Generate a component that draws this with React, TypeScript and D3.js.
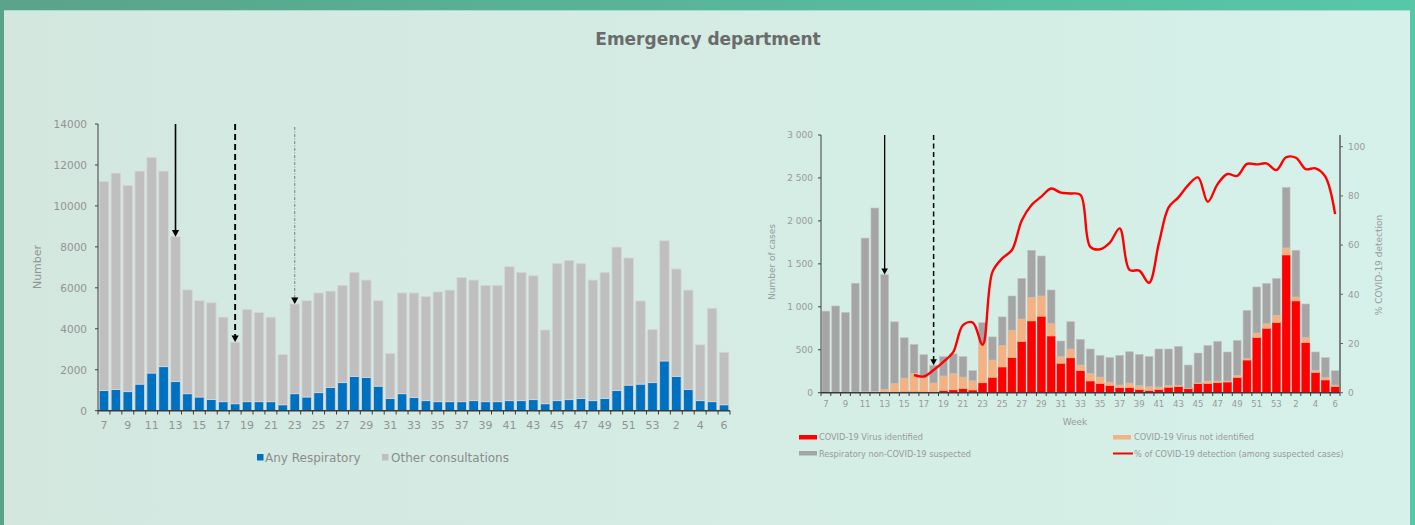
import React, { useRef, useEffect } from "react";
import * as d3 from "d3";

// week numbers (7..53 of year one, then 1..6 of year two)
const weeks = [
  7, 8, 9, 10, 11, 12, 13, 14, 15, 16, 17, 18, 19, 20, 21, 22, 23, 24, 25, 26,
  27, 28, 29, 30, 31, 32, 33, 34, 35, 36, 37, 38, 39, 40, 41, 42, 43, 44, 45,
  46, 47, 48, 49, 50, 51, 52, 53, 1, 2, 3, 4, 5, 6,
];

// left chart: consultations
const anyRespiratory = [
  980, 1030, 930, 1300, 1840, 2150, 1420, 830, 670, 550, 440, 340, 440, 440,
  440, 290, 830, 670, 880, 1140, 1370, 1680, 1630, 1200, 600, 830, 650, 490,
  440, 440, 440, 490, 440, 440, 490, 490, 540, 340, 490, 540, 600, 490, 600,
  980, 1250, 1300, 1370, 2430, 1680, 1030, 490, 440, 290,
];
const otherConsultations = [
  10220, 10570, 10070, 10400, 10530, 9550, 7080, 5070, 4700, 4720, 4130, 3010,
  4510, 4350, 4130, 2460, 4380, 4700, 4870, 4700, 4750, 5080, 4750, 4170, 2200,
  4920, 5100, 5090, 5360, 5450, 6060, 5890, 5680, 5680, 6540, 6270, 6050, 3600,
  6690, 6800, 6580, 5890, 6160, 7010, 6210, 4060, 2600, 5870, 5240, 4860, 2730,
  4560, 2560,
];
const leftTicks = [0, 2000, 4000, 6000, 8000, 10000, 12000, 14000];

// right chart: suspected cases
const covidIdentified = [
  3, 2, 2, 3, 4, 5, 5, 8, 12, 12, 10, 8, 23, 33, 47, 31, 115, 177, 299, 408,
  594, 835, 889, 660, 342, 406, 256, 136, 105, 82, 58, 58, 35, 23, 35, 62, 70,
  47, 105, 105, 116, 124, 175, 380, 641, 749, 815, 1603, 1068, 582, 233, 148,
  70,
];
const covidNotIdentified = [
  2, 3, 3, 5, 6, 10, 34, 97, 158, 213, 160, 105, 172, 192, 135, 107, 455, 203,
  252, 319, 264, 275, 237, 144, 77, 103, 66, 89, 77, 42, 31, 55, 47, 47, 31, 20,
  12, 3, 8, 31, 20, 12, 27, 16, 54, 55, 86, 82, 46, 59, 27, 27, 19,
];
const respNonCovid = [
  945, 1005, 930, 1267, 1790, 2135, 1336, 720, 470, 338, 273, 207, 225, 227,
  239, 120, 245, 270, 332, 399, 473, 548, 466, 392, 183, 318, 299, 284, 253,
  287, 346, 364, 364, 353, 443, 427, 458, 272, 349, 415, 462, 338, 407, 563,
  536, 469, 430, 706, 544, 392, 214, 233, 167,
];
const covidDetectionPct: (number | null)[] = [
  null, null, null, null, null, null, null, null, null, 7.2, 6.6, 9.2, 12.5,
  16.5, 27.5, 28.5, 19.5, 49, 54.6, 58, 70, 76.3, 79.7, 83, 81.3, 81, 80.4,
  59.3, 58.3, 61, 66.8, 49.9, 49.6, 44.7, 60.7, 75.3, 79.4, 84.4, 87.5, 77.6,
  84.8, 88.9, 88.1, 93, 92.8, 93.2, 90.5, 95.7, 95.5, 90.9, 91.2, 87.8, 72.6,
];
const rightCountTicks = [0, 500, 1000, 1500, 2000, 2500, 3000];
const rightPctTicks = [0, 20, 40, 60, 80, 100];

const W = 1415;
const H = 525;
const FONT = "'DejaVu Sans', sans-serif";

const App: React.FC = () => {
  const svgRef = useRef<SVGSVGElement>(null);

  useEffect(() => {
    const svg = d3.select(svgRef.current);
    svg.selectAll("*").remove();

    // background
    const defs = svg.append("defs");
    const topGrad = defs.append("linearGradient").attr("id", "topband");
    topGrad.append("stop").attr("offset", "0%").attr("stop-color", "#5aa38a");
    topGrad.append("stop").attr("offset", "100%").attr("stop-color", "#56c8a8");
    const panelGrad = defs.append("linearGradient").attr("id", "panel");
    panelGrad.append("stop").attr("offset", "0%").attr("stop-color", "#d3e7df");
    panelGrad.append("stop").attr("offset", "100%").attr("stop-color", "#d5f1e9");

    svg.append("rect").attr("width", W).attr("height", H).attr("fill", "url(#topband)");
    svg.append("rect").attr("x", 4).attr("y", 10).attr("width", 1406).attr("height", H - 10)
      .attr("fill", "url(#panel)");
    svg.append("line").attr("x1", 4).attr("x2", 1410).attr("y1", 10.5).attr("y2", 10.5)
      .attr("stroke", "#a6dccb").attr("stroke-width", 1);

    svg.append("text").attr("x", 708).attr("y", 45).attr("text-anchor", "middle")
      .attr("font-family", FONT).attr("font-weight", "bold").attr("font-size", 17)
      .attr("fill", "#6b6b6b").text("Emergency department");

    const keys = weeks.map(String);

    // ---------- left chart ----------
    const xL = d3.scaleBand().domain(keys).range([98, 730]).paddingInner(0.2).paddingOuter(0.1);
    const yL = d3.scaleLinear().domain([0, 14000]).range([410.7, 124]);
    const leftRows = weeks.map((w, i) => ({ week: String(w), resp: anyRespiratory[i], other: otherConsultations[i] }));
    const leftStack = d3.stack<any>().keys(["resp", "other"])(leftRows);
    const leftColors: Record<string, string> = { resp: "#0070c0", other: "#bfbfbf" };

    const gL = svg.append("g");
    leftStack.forEach((layer) => {
      gL.append("g")
        .selectAll("rect")
        .data(layer)
        .enter()
        .append("rect")
        .attr("x", (d: any) => xL(d.data.week)!)
        .attr("width", xL.bandwidth())
        .attr("y", (d) => yL(d[1]))
        .attr("height", (d) => yL(d[0]) - yL(d[1]))
        .attr("fill", leftColors[layer.key])
        .attr("stroke", "#d6d6d6")
        .attr("stroke-width", 0.8);
    });

    // y axis
    gL.append("line").attr("x1", 98).attr("x2", 98).attr("y1", 124).attr("y2", 410.7)
      .attr("stroke", "#404040").attr("stroke-width", 1);
    leftTicks.forEach((t) => {
      gL.append("line").attr("x1", 95).attr("x2", 98).attr("y1", yL(t)).attr("y2", yL(t))
        .attr("stroke", "#404040");
      gL.append("text").attr("x", 87).attr("y", yL(t) + 3.8).attr("text-anchor", "end")
        .attr("font-family", FONT).attr("font-size", 10.5).attr("fill", "#939393").text(String(t));
    });
    gL.append("text").attr("transform", "translate(41,267) rotate(-90)").attr("text-anchor", "middle")
      .attr("font-family", FONT).attr("font-size", 11).attr("fill", "#939393").text("Number");

    // x axis
    gL.append("line").attr("x1", 98).attr("x2", 730).attr("y1", 410.7).attr("y2", 410.7)
      .attr("stroke", "#3a3a3a").attr("stroke-width", 1.5);
    d3.range(keys.length + 1).forEach((i) => {
      const x = 98 + i * xL.step();
      gL.append("line").attr("x1", x).attr("x2", x).attr("y1", 410.7).attr("y2", 414.5)
        .attr("stroke", "#3a3a3a").attr("stroke-width", 1);
    });
    keys.forEach((k, i) => {
      if (i % 2 !== 0) return;
      gL.append("text").attr("x", xL(k)! + xL.bandwidth() / 2).attr("y", 429)
        .attr("text-anchor", "middle").attr("font-family", FONT).attr("font-size", 11)
        .attr("fill", "#939393").text(k);
    });

    // arrows
    const arrow = (g: any, x: number, y0: number, y1: number, dash: string | null, color: string, sw: number, head: number) => {
      const l = g.append("line").attr("x1", x).attr("x2", x).attr("y1", y0).attr("y2", y1 - head)
        .attr("stroke", color).attr("stroke-width", sw);
      if (dash) l.attr("stroke-dasharray", dash);
      g.append("path")
        .attr("d", `M${x - head * 0.6},${y1 - head * 1.1}L${x + head * 0.6},${y1 - head * 1.1}L${x},${y1}Z`)
        .attr("fill", "#000");
    };
    const leftTotal = (w: number) => {
      const i = weeks.indexOf(w);
      return anyRespiratory[i] + otherConsultations[i];
    };
    const cxL = (w: number) => xL(String(w))! + xL.bandwidth() / 2;
    arrow(gL, cxL(13), 124, yL(leftTotal(13)), null, "#000", 1.6, 6);
    arrow(gL, cxL(18), 124, yL(leftTotal(18)), "6,4", "#000", 1.9, 6);
    arrow(gL, cxL(23), 127, yL(leftTotal(23)), "3,1.5,1,1.5", "#555", 0.7, 6);

    // legend
    const legL = svg.append("g").attr("font-family", FONT).attr("font-size", 12).attr("fill", "#8c8c8c");
    legL.append("rect").attr("x", 257).attr("y", 454).attr("width", 6.5).attr("height", 6.5).attr("fill", "#0070c0");
    legL.append("text").attr("x", 265).attr("y", 461.5).text("Any Respiratory");
    legL.append("rect").attr("x", 382).attr("y", 454).attr("width", 6.5).attr("height", 6.5).attr("fill", "#bfbfbf");
    legL.append("text").attr("x", 391).attr("y", 461.5).text("Other consultations");

    // ---------- right chart ----------
    const xR = d3.scaleBand().domain(keys).range([821, 1340]).paddingInner(0.2).paddingOuter(0.1);
    const yR = d3.scaleLinear().domain([0, 3000]).range([392.7, 135]);
    const yP = d3.scaleLinear().domain([0, 100]).range([392.7, 146.7]);
    const rightRows = weeks.map((w, i) => ({
      week: String(w),
      ident: covidIdentified[i],
      notIdent: covidNotIdentified[i],
      nonCovid: respNonCovid[i],
    }));
    const rightStack = d3.stack<any>().keys(["ident", "notIdent", "nonCovid"])(rightRows);
    const rightColors: Record<string, string> = { ident: "#ff0000", notIdent: "#f4b183", nonCovid: "#a5a5a5" };
    const rightStroke: Record<string, string> = { ident: "#ff0000", notIdent: "#f4b183", nonCovid: "#c4c4c4" };

    const gR = svg.append("g");
    rightStack.forEach((layer) => {
      gR.append("g")
        .selectAll("rect")
        .data(layer)
        .enter()
        .append("rect")
        .attr("x", (d: any) => xR(d.data.week)!)
        .attr("width", xR.bandwidth())
        .attr("y", (d) => yR(d[1]))
        .attr("height", (d) => Math.max(0, yR(d[0]) - yR(d[1])))
        .attr("fill", rightColors[layer.key])
        .attr("stroke", rightStroke[layer.key])
        .attr("stroke-width", 0.6);
    });

    // left count axis
    gR.append("line").attr("x1", 821).attr("x2", 821).attr("y1", 135).attr("y2", 392.7)
      .attr("stroke", "#404040").attr("stroke-width", 1);
    rightCountTicks.forEach((t) => {
      gR.append("line").attr("x1", 818).attr("x2", 821).attr("y1", yR(t)).attr("y2", yR(t)).attr("stroke", "#404040");
      gR.append("text").attr("x", 813).attr("y", yR(t) + 3.2).attr("text-anchor", "end")
        .attr("font-family", FONT).attr("font-size", 9).attr("fill", "#9a9a9a")
        .text(d3.format(",")(t).replace(",", " "));
    });
    gR.append("text").attr("transform", "translate(775,262) rotate(-90)").attr("text-anchor", "middle")
      .attr("font-family", FONT).attr("font-size", 9).attr("fill", "#9a9a9a").text("Number of cases");

    // right pct axis
    gR.append("line").attr("x1", 1340).attr("x2", 1340).attr("y1", 135).attr("y2", 392.7)
      .attr("stroke", "#666").attr("stroke-width", 1.6);
    rightPctTicks.forEach((t) => {
      gR.append("line").attr("x1", 1340).attr("x2", 1343).attr("y1", yP(t)).attr("y2", yP(t)).attr("stroke", "#666");
      gR.append("text").attr("x", 1348).attr("y", yP(t) + 3.2)
        .attr("font-family", FONT).attr("font-size", 9).attr("fill", "#9a9a9a").text(String(t));
    });
    gR.append("text").attr("transform", "translate(1382,265) rotate(-90)").attr("text-anchor", "middle")
      .attr("font-family", FONT).attr("font-size", 9).attr("fill", "#9a9a9a").text("% COVID-19 detection");

    // x axis
    gR.append("line").attr("x1", 821).attr("x2", 1340).attr("y1", 392.7).attr("y2", 392.7)
      .attr("stroke", "#3a3a3a").attr("stroke-width", 1.5);
    d3.range(keys.length + 1).forEach((i) => {
      const x = 821 + i * xR.step();
      gR.append("line").attr("x1", x).attr("x2", x).attr("y1", 392.7).attr("y2", 396)
        .attr("stroke", "#3a3a3a").attr("stroke-width", 1);
    });
    keys.forEach((k, i) => {
      if (i % 2 !== 0) return;
      gR.append("text").attr("x", xR(k)! + xR.bandwidth() / 2).attr("y", 407)
        .attr("text-anchor", "middle").attr("font-family", FONT).attr("font-size", 8.5)
        .attr("fill", "#9a9a9a").text(k);
    });
    gR.append("text").attr("x", 1075).attr("y", 425).attr("text-anchor", "middle")
      .attr("font-family", FONT).attr("font-size", 9).attr("fill", "#9a9a9a").text("Week");

    // detection line
    const line = d3.line<number | null>()
      .defined((d) => d != null)
      .x((_, i) => xR(keys[i])! + xR.bandwidth() / 2)
      .y((d) => yP(d as number))
      .curve(d3.curveCatmullRom.alpha(0.5));
    gR.append("path").attr("d", line(covidDetectionPct)!).attr("fill", "none")
      .attr("stroke", "#ff0000").attr("stroke-width", 2.4);

    // arrows
    const rightTotal = (w: number) => {
      const i = weeks.indexOf(w);
      return covidIdentified[i] + covidNotIdentified[i] + respNonCovid[i];
    };
    const cxR = (w: number) => xR(String(w))! + xR.bandwidth() / 2;
    arrow(gR, cxR(13), 135, yR(rightTotal(13)), null, "#000", 1.3, 5.5);
    arrow(gR, cxR(18), 135, yR(rightTotal(18)), "5,3.5", "#000", 1.5, 5.5);

    // legend
    const legR = svg.append("g").attr("font-family", FONT).attr("font-size", 8.2).attr("fill", "#9a9a9a");
    legR.append("rect").attr("x", 799).attr("y", 435).attr("width", 18).attr("height", 4.5).attr("fill", "#ff0000");
    legR.append("text").attr("x", 819).attr("y", 440).text("COVID-19 Virus identified");
    legR.append("rect").attr("x", 799).attr("y", 451).attr("width", 18).attr("height", 4.5).attr("fill", "#a5a5a5");
    legR.append("text").attr("x", 819).attr("y", 456.5).text("Respiratory non-COVID-19 suspected");
    legR.append("rect").attr("x", 1113).attr("y", 435).attr("width", 18).attr("height", 4.5).attr("fill", "#f4b183");
    legR.append("text").attr("x", 1134).attr("y", 440).text("COVID-19 Virus not identified");
    legR.append("line").attr("x1", 1113).attr("x2", 1133).attr("y1", 453.5).attr("y2", 453.5)
      .attr("stroke", "#ff0000").attr("stroke-width", 2);
    legR.append("text").attr("x", 1134).attr("y", 456.5).text("% of COVID-19 detection (among suspected cases)");
  }, []);

  return (
    <svg
      ref={svgRef}
      width={W}
      height={H}
      style={{ position: "absolute", left: 0, top: 0, display: "block" }}
    ></svg>
  );
};

export default App;
